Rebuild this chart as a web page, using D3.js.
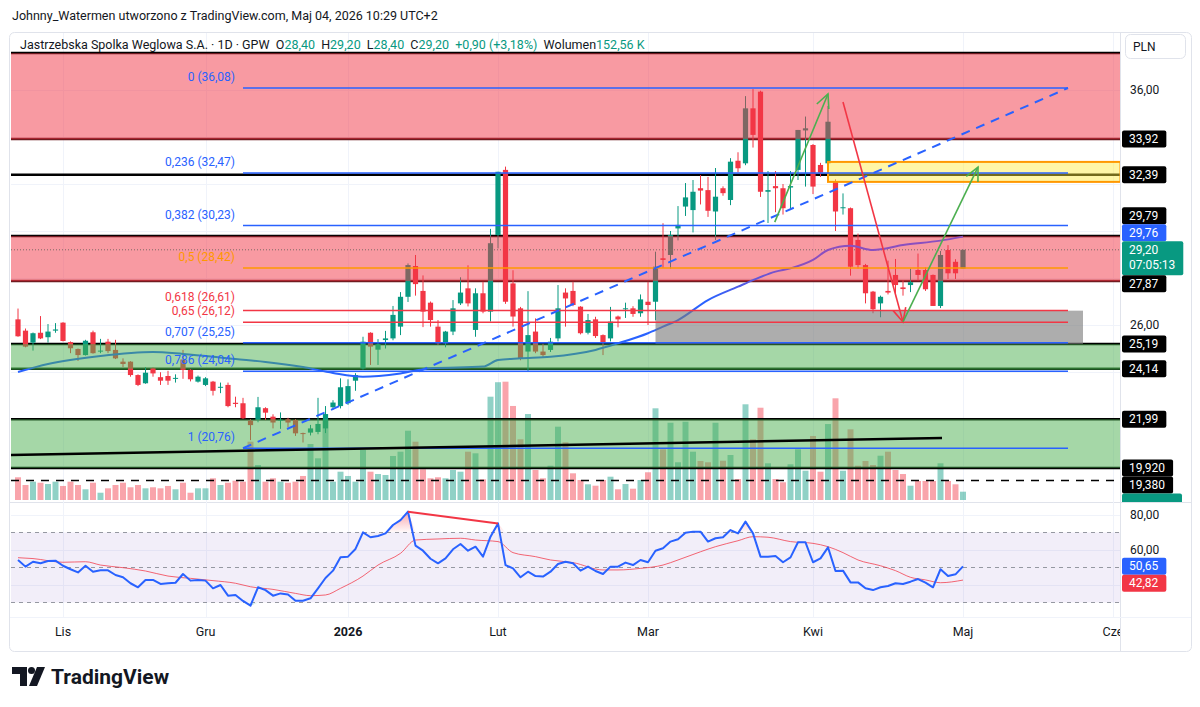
<!DOCTYPE html>
<html>
<head>
<meta charset="utf-8">
<title>JSW 1D</title>
<script src="https://cdn.jsdelivr.net/npm/d3@7/dist/d3.min.js"></script>
<style>
  html, body { margin: 0; padding: 0; background: #fff; }
  svg { display: block; font-family: Roboto, "Noto Sans", sans-serif; }
</style>
</head>
<body>
<svg id="chart" width="1200" height="707"></svg>
<script>
// bar index 0 = 3 Nov 2025, index 120 = 4 May 2026; the first bar shown is index -6
const firstIndex = -6;

const opens = [26.24, 25.76, 25.25, 25.67, 25.48, 25.76,
  26.10, 25.27, 24.98, 24.72, 25.69, 24.88, 25.29, 24.94, 24.44, 24.44,
  23.87, 23.52, 24.16, 23.78, 23.83, 23.71, 24.53, 24.09, 23.59, 23.45,
  23.59, 23.35, 23.45, 22.69, 22.67, 21.93, 21.96, 22.46, 22.10, 21.94,
  21.99, 21.96, 21.40, 21.42, 21.45, 21.60, 22.50, 22.55, 22.67, 23.63,
  24.15, 25.67, 24.95, 25.36, 25.43, 25.93, 27.20, 28.51, 27.45, 26.95,
  25.93, 25.22, 25.72, 26.92, 27.56, 25.79, 27.35, 26.57, 29.83, 32.60,
  27.77, 26.71, 24.87, 25.72, 24.87, 24.94, 25.43, 27.38, 27.45, 26.78,
  25.67, 26.24, 25.57, 25.43, 26.36, 26.69, 26.71, 26.50, 26.99, 26.99,
  28.84, 28.98, 30.11, 31.04, 30.89, 31.82, 31.74, 30.83, 31.82, 31.32,
  32.99, 32.88, 35.22, 35.93, 31.67, 31.91, 31.82, 31.85, 32.60, 34.28,
  33.66, 32.81, 32.88, 32.10, 30.99, 30.97, 29.62, 28.55, 27.42, 26.92,
  27.45, 28.13, 27.60, 27.70, 28.34, 28.34, 28.13, 26.81, 29.19, 28.69,
  28.40];

const highs = [26.70, 25.85, 25.68, 26.38, 26.04, 26.08,
  26.12, 25.30, 25.00, 25.37, 25.76, 25.41, 25.41, 25.37, 24.58, 24.46,
  23.90, 24.21, 24.20, 23.99, 24.05, 23.90, 24.94, 24.12, 23.85, 23.78,
  23.62, 23.55, 23.55, 22.95, 22.90, 22.00, 22.94, 22.50, 22.20, 22.28,
  22.05, 22.00, 21.42, 21.75, 22.90, 22.55, 22.80, 23.73, 23.69, 23.95,
  25.50, 25.69, 25.40, 25.75, 26.81, 27.40, 28.62, 28.98, 28.11, 27.00,
  26.21, 25.75, 27.06, 28.03, 28.54, 27.56, 27.84, 30.09, 32.52, 32.74,
  28.33, 26.77, 27.44, 26.28, 25.20, 25.45, 27.70, 27.56, 27.84, 26.80,
  26.47, 26.35, 25.60, 26.77, 26.40, 26.95, 26.80, 27.30, 27.84, 29.12,
  30.33, 30.00, 31.06, 32.04, 32.17, 32.38, 32.30, 32.68, 31.90, 33.10,
  33.35, 35.74, 36.04, 35.97, 32.55, 32.55, 32.00, 32.55, 34.30, 34.87,
  33.70, 32.90, 35.32, 32.20, 31.60, 31.00, 29.89, 28.60, 27.45, 27.25,
  28.74, 28.81, 27.90, 28.40, 29.04, 28.45, 28.15, 29.15, 29.40, 28.80,
  29.20];

const lows = [25.50, 25.05, 24.91, 25.40, 25.25, 25.67,
  25.30, 24.80, 24.47, 24.70, 24.78, 24.80, 24.80, 24.55, 24.21, 23.80,
  23.40, 23.50, 23.80, 23.45, 23.45, 23.55, 23.71, 23.60, 23.55, 23.40,
  23.00, 23.10, 22.50, 22.50, 22.00, 21.10, 21.86, 21.95, 21.60, 21.58,
  21.65, 21.28, 21.00, 21.30, 21.35, 21.40, 22.40, 22.45, 22.60, 23.20,
  24.10, 24.30, 24.30, 25.00, 25.35, 25.57, 26.98, 27.25, 25.91, 25.93,
  25.15, 25.05, 25.57, 26.85, 26.79, 25.50, 26.50, 26.15, 29.26, 26.90,
  25.93, 24.50, 24.02, 24.80, 24.60, 24.85, 25.30, 25.93, 26.80, 25.60,
  25.60, 25.45, 24.72, 25.30, 25.90, 26.30, 26.35, 26.35, 26.00, 26.20,
  28.43, 28.40, 29.60, 30.64, 29.94, 31.13, 30.60, 29.62, 31.50, 31.10,
  32.50, 32.80, 33.55, 31.45, 30.34, 30.80, 30.70, 30.90, 32.17, 31.89,
  31.57, 32.30, 32.80, 30.00, 30.70, 28.10, 28.40, 26.92, 26.50, 26.33,
  27.30, 27.23, 27.25, 27.40, 27.90, 27.45, 26.81, 26.72, 27.96, 27.96,
  28.40];

const closes = [25.52, 25.08, 25.65, 25.43, 25.72, 25.81,
  25.32, 25.01, 24.72, 25.33, 24.80, 24.91, 24.89, 24.58, 24.34, 23.87,
  23.45, 23.97, 23.94, 23.63, 23.63, 23.75, 24.09, 23.69, 23.80, 23.73,
  23.20, 23.37, 22.55, 22.64, 22.03, 21.74, 22.50, 22.27, 21.85, 21.97,
  21.85, 21.39, 21.36, 21.60, 21.79, 22.21, 22.70, 23.35, 23.40, 23.87,
  25.29, 25.08, 25.18, 25.43, 26.43, 27.20, 28.55, 27.74, 26.57, 26.21,
  25.22, 25.72, 26.71, 27.38, 26.92, 27.35, 26.57, 29.48, 32.52, 26.99,
  26.36, 24.58, 25.57, 24.87, 24.72, 25.29, 26.71, 27.13, 26.85, 25.65,
  26.21, 25.53, 25.25, 26.14, 26.24, 26.71, 26.47, 27.09, 26.85, 28.48,
  28.77, 29.83, 30.26, 31.43, 31.67, 31.72, 30.86, 31.46, 31.61, 32.95,
  32.67, 35.22, 34.09, 31.67, 31.74, 31.82, 30.97, 31.91, 34.30, 34.37,
  31.89, 32.48, 34.65, 30.83, 31.01, 28.48, 28.55, 27.35, 26.67, 27.20,
  27.38, 27.70, 27.53, 27.82, 28.13, 27.52, 26.81, 28.98, 28.20, 28.20,
  29.20];

// volume in thousands of shares
const volumes = [418, 276, 337, 318, 294, 337,
  258, 337, 276, 197, 318, 134, 215, 276, 318, 234,
  276, 215, 234, 215, 258, 197, 318, 134, 215, 215,
  399, 276, 318, 355, 337, 1073, 644, 337, 399, 337,
  318, 337, 442, 1030, 767, 1485, 337, 521, 442, 337,
  920, 521, 478, 460, 810, 889, 1275, 1073, 565, 399,
  418, 399, 552, 521, 889, 859, 381, 1901, 2167, 2177,
  1730, 1117, 1582, 552, 399, 631, 1349, 1062, 491, 368,
  289, 263, 368, 429, 197, 294, 208, 368, 510, 1687,
  933, 1422, 694, 1441, 889, 718, 694, 1422, 723, 828,
  386, 1761, 1117, 1698, 675, 386, 326, 657, 933, 539,
  1178, 521, 1398, 1871, 539, 1301, 631, 718, 644, 815,
  889, 552, 478, 263, 350, 350, 350, 675, 350, 289,
  152.56];

const rsiValues = [54.3, 50.5, 53.3, 52.4, 53.7, 53.9,
  51, 49, 47.2, 51, 47.6, 48.4, 48.4, 45.7, 44.4, 41,
  38.7, 42.9, 42.9, 40.6, 41, 41.3, 46.3, 42.5, 42.9, 42.5,
  38.1, 40, 33.9, 34.3, 30.9, 28.2, 38.7, 37.1, 33.9, 35.2,
  34.6, 31, 31, 32.4, 38.1, 44, 48.2, 55.8, 56.2, 60.6,
  70.1, 67.3, 68, 69.5, 74.3, 77.1, 81.9, 62.5, 59.6, 55,
  52.4, 55.2, 60.4, 63.4, 59.6, 61.9, 56.2, 67.6, 75.2, 51.4,
  49.5, 44.4, 47.6, 45.1, 44.8, 47.6, 52, 53.3, 52.4, 48.2,
  50.5, 48, 46.3, 50.5, 50.5, 52.8, 51.4, 54.3, 53, 59.6,
  61, 64.8, 66.1, 69.9, 70.5, 70.5, 64.8, 66.7, 67.3, 71.4,
  69.5, 76.2, 69.5, 56.2, 56.2, 56.6, 53, 55.8, 64.4, 64.4,
  53, 55.2, 61.5, 48, 48.2, 41.5, 41.5, 38.1, 37.1, 38.7,
  39.4, 41, 40.6, 41.9, 43.4, 41.3, 38.7, 49, 45.1, 46.1,
  50.65];

// RSI moving average, read at these bar indices
const rsiMaIdx = [-6, -4, 0, 3, 5, 8, 11, 14, 17, 20, 23, 25, 28, 31, 33, 35, 37, 40, 42, 45,
  47, 50, 53, 55, 58, 60, 63, 65, 68, 72, 74, 77, 80, 82, 85, 87, 90, 92, 94, 97,
  100, 102, 104, 106, 109, 111, 113, 115, 117, 120];
const rsiMaVals = [55.6, 55.1, 53, 53.3, 51.4, 49.9, 48, 45.1, 43.8, 42.5, 41, 39, 37.5, 35.2, 33.9, 34.3, 38.1, 45.1, 51.4, 58.1,
  65.7, 66.3, 66.7, 65.7, 64.8, 58.5, 56.2, 54.3, 52.8, 48.6, 48.6, 49.5, 51.4, 54.3, 59, 61.9, 65.3, 67.6, 67.3, 64.8,
  63.8, 61.9, 58.5, 54.3, 51, 48.2, 44.4, 42.9, 41.3, 42.82];

// price moving average, read at these bar indices
const maIdx = [-6, -2, 5, 12, 16, 23, 27, 32, 36, 40, 45, 49, 56, 58, 61, 65, 71, 74, 78, 80,
  82, 86, 90, 92, 95, 97, 100, 102, 105, 108, 112, 117, 120];
const maVals = [24.00, 24.34, 24.68, 24.85, 24.77, 24.55, 24.43, 24.21, 23.96, 23.80, 23.94, 24.16, 24.23, 24.51, 24.58, 24.65, 24.94, 25.22, 25.65, 25.93,
  26.21, 27.06, 27.63, 27.91, 28.27, 28.41, 28.77, 29.19, 29.37, 29.19, 29.40, 29.59, 29.76];

const monthIdx = [0, 19, 38, 58, 78, 100, 120, 140];
const monthLabels = ['Lis', 'Gru', '2026', 'Lut', 'Mar', 'Kwi', 'Maj', 'Cze'];

// fibonacci retracement
const fibLevels = [0, 0.236, 0.382, 0.5, 0.618, 0.65, 0.707, 0.786, 1];
const fibColors = ['#2962ff', '#2962ff', '#2962ff', '#ff9800', '#f23645', '#f23645', '#2962ff', '#2962ff', '#2962ff'];
const fibHigh = 36.084, fibLow = 20.757;
const fibFrom = 24, fibTo = 134;

// support / resistance zones and horizontal lines
const redZones = [[37.57, 33.92], [29.79, 27.87]];
const greenZones = [[25.19, 24.14], [21.99, 19.92]];
const levelLines = [37.57, 33.92, 32.39, 29.79, 27.87, 25.19, 24.14, 21.99, 19.92];
const levelColors = ['#000', '#6d1b1f', '#000', '#000', '#6d1b1f', '#000', '#1c4f20', '#000', '#000'];
const dashedLevel = 19.38;
const tagLevels = [33.92, 32.39, 29.79, 27.87, 25.19, 24.14, 21.99, 19.92, 19.38];
const tagTexts = ['33,92', '32,39', '29,79', '27,87', '25,19', '24,14', '21,99', '19,920', '19,380'];

// other drawings [index, price]
const yellowBox = [[102, 32.94], [141, 32.09]];
const grayBox = [[79, 26.61], [136, 25.19]];
const trendLine = [[-7, 20.47], [117.2, 21.19]];
const arrowFrom = [[94.9, 30.38], [104, 35.49], [112, 26.13]];
const arrowTo = [[102, 35.83], [112, 26.13], [122, 32.72]];
const arrowColors = ['#4caf50', '#f23645', '#4caf50'];
const divergence = [[46, 81.9], [58, 75.2]];

const lastPrice = 29.20, countdown = '07:05:13';

// ---------------------------------------------------------------
const UP = '#089981', DOWN = '#f23645';
const fmt = d => d3.format('.2f')(d).replace('.', ',');

const P = { left: 11, right: 1120, top: 33, priceBottom: 502, rsiTop: 503, rsiBottom: 617, bottom: 651 };

const x = d3.scaleLinear().domain([0, 120]).range([63, 963]);
const y = d3.scaleLinear().domain([26, 36]).range([325, 90]);
const yVol = d3.scaleLinear().domain([0, 2300]).range([500, 375]);
const yRsi = d3.scaleLinear().domain([30, 80]).range([602.5, 515]);

const bars = opens.map((o, k) => ({
  i: firstIndex + k, o, h: highs[k], l: lows[k], c: closes[k], v: volumes[k], rsi: rsiValues[k]
}));

const svg = d3.select('#chart');
const defs = svg.append('defs');

defs.append('clipPath').attr('id', 'clip-price').append('rect')
  .attr('x', P.left).attr('y', P.top).attr('width', P.right - P.left).attr('height', P.priceBottom - P.top);
defs.append('clipPath').attr('id', 'clip-rsi').append('rect')
  .attr('x', P.left).attr('y', P.rsiTop).attr('width', P.right - P.left).attr('height', P.rsiBottom - P.rsiTop);
defs.append('clipPath').attr('id', 'clip-axis').append('rect')
  .attr('x', P.right).attr('y', P.top).attr('width', 72).attr('height', P.priceBottom - P.top);
defs.append('clipPath').attr('id', 'clip-time').append('rect')
  .attr('x', P.left).attr('y', P.rsiBottom).attr('width', P.right - P.left).attr('height', P.bottom - P.rsiBottom);

const maGrad = defs.append('linearGradient').attr('id', 'ma-grad')
  .attr('gradientUnits', 'userSpaceOnUse')
  .attr('x1', x(86)).attr('x2', x(97)).attr('y1', 0).attr('y2', 0);
maGrad.append('stop').attr('offset', 0).attr('stop-color', '#2962ff');
maGrad.append('stop').attr('offset', 1).attr('stop-color', '#8a4fbf');

const obGrad = defs.append('linearGradient').attr('id', 'ob-grad').attr('x1', 0).attr('x2', 0).attr('y1', 0).attr('y2', 1);
obGrad.append('stop').attr('offset', 0).attr('stop-color', '#f23645').attr('stop-opacity', 0.45);
obGrad.append('stop').attr('offset', 1).attr('stop-color', '#f23645').attr('stop-opacity', 0.02);
const osGrad = defs.append('linearGradient').attr('id', 'os-grad').attr('x1', 0).attr('x2', 0).attr('y1', 0).attr('y2', 1);
osGrad.append('stop').attr('offset', 0).attr('stop-color', '#089981').attr('stop-opacity', 0.02);
osGrad.append('stop').attr('offset', 1).attr('stop-color', '#089981').attr('stop-opacity', 0.45);

svg.append('rect').attr('width', 1200).attr('height', 707).attr('fill', '#fff');

// frame
svg.append('rect').attr('x', 9.5).attr('y', 32.5).attr('width', 1182).attr('height', 619)
  .attr('rx', 5).attr('fill', 'none').attr('stroke', '#e0e3eb');
svg.append('line').attr('x1', P.right + 0.5).attr('x2', P.right + 0.5).attr('y1', P.top).attr('y2', P.bottom)
  .attr('stroke', '#e0e3eb');
svg.append('line').attr('x1', 10).attr('x2', 1191).attr('y1', P.priceBottom + 0.5).attr('y2', P.priceBottom + 0.5)
  .attr('stroke', '#e0e3eb');
svg.append('line').attr('x1', 10).attr('x2', 1191).attr('y1', P.rsiBottom + 0.5).attr('y2', P.rsiBottom + 0.5)
  .attr('stroke', '#f0f3fa');

// grid
const grid = svg.append('g');
grid.selectAll('.vg').data(monthIdx).join('line')
  .attr('x1', d => Math.round(x(d)) + 0.5).attr('x2', d => Math.round(x(d)) + 0.5)
  .attr('y1', P.top).attr('y2', P.rsiBottom).attr('stroke', '#f0f3fa');
const priceTicks = d3.range(20, 37, 2);
grid.selectAll('.hg').data(priceTicks).join('line')
  .attr('x1', P.left).attr('x2', P.right)
  .attr('y1', d => Math.round(y(d)) + 0.5).attr('y2', d => Math.round(y(d)) + 0.5)
  .attr('stroke', '#f0f3fa');
grid.selectAll('.rg').data([80, 60, 40]).join('line')
  .attr('x1', P.left).attr('x2', P.right)
  .attr('y1', d => Math.round(yRsi(d)) + 0.5).attr('y2', d => Math.round(yRsi(d)) + 0.5)
  .attr('stroke', '#f0f3fa');

// ---------------- price pane ----------------
const pane = svg.append('g').attr('clip-path', 'url(#clip-price)');

pane.append('g').selectAll('rect').data(bars).join('rect')
  .attr('x', d => x(d.i) - 3).attr('width', 6)
  .attr('y', d => yVol(d.v)).attr('height', d => yVol(0) - yVol(d.v))
  .attr('fill', d => d.c >= d.o ? UP : DOWN).attr('fill-opacity', 0.45);

// level lines under zones
pane.append('g').selectAll('line').data(levelLines).join('line')
  .attr('x1', P.left).attr('x2', P.right)
  .attr('y1', d => y(d)).attr('y2', d => y(d))
  .attr('stroke', (d, k) => levelColors[k]).attr('stroke-width', 2.5);
pane.append('line').attr('x1', P.left).attr('x2', P.right)
  .attr('y1', y(dashedLevel)).attr('y2', y(dashedLevel))
  .attr('stroke', '#000').attr('stroke-width', 1.5).attr('stroke-dasharray', '8,7');

// last price line
pane.append('line').attr('x1', P.left).attr('x2', P.right)
  .attr('y1', y(lastPrice)).attr('y2', y(lastPrice))
  .attr('stroke', UP).attr('stroke-width', 1).attr('stroke-dasharray', '1,2');

// candles
const candle = pane.append('g').selectAll('g').data(bars).join('g');
candle.append('line')
  .attr('x1', d => x(d.i)).attr('x2', d => x(d.i))
  .attr('y1', d => y(d.h)).attr('y2', d => y(d.l))
  .attr('stroke', d => d.c >= d.o ? UP : DOWN).attr('stroke-width', 1);
candle.append('rect')
  .attr('x', d => x(d.i) - 2.6).attr('width', 5.2)
  .attr('y', d => y(Math.max(d.o, d.c)))
  .attr('height', d => Math.max(1, Math.abs(y(d.o) - y(d.c))))
  .attr('fill', d => d.c >= d.o ? UP : DOWN);

// red zones
pane.append('g').selectAll('rect').data(redZones).join('rect')
  .attr('x', P.left).attr('width', P.right - P.left)
  .attr('y', d => y(d[0])).attr('height', d => y(d[1]) - y(d[0]))
  .attr('fill', '#f23645').attr('fill-opacity', 0.5);

// moving average
const maLine = d3.line().x(d => x(d[0])).y(d => y(d[1])).curve(d3.curveMonotoneX);
pane.append('path').datum(maIdx.map((d, k) => [d, maVals[k]]))
  .attr('d', maLine).attr('fill', 'none').attr('stroke', 'url(#ma-grad)').attr('stroke-width', 2);

// green zones
pane.append('g').selectAll('rect').data(greenZones).join('rect')
  .attr('x', P.left).attr('width', P.right - P.left)
  .attr('y', d => y(d[0])).attr('height', d => y(d[1]) - y(d[0]))
  .attr('fill', '#4caf50').attr('fill-opacity', 0.5);

// gray and yellow boxes
pane.append('rect')
  .attr('x', x(grayBox[0][0])).attr('width', x(grayBox[1][0]) - x(grayBox[0][0]))
  .attr('y', y(grayBox[0][1])).attr('height', y(grayBox[1][1]) - y(grayBox[0][1]))
  .attr('fill', '#7b7b7b').attr('fill-opacity', 0.62);
pane.append('rect')
  .attr('x', x(yellowBox[0][0])).attr('width', x(yellowBox[1][0]) - x(yellowBox[0][0]))
  .attr('y', y(yellowBox[0][1])).attr('height', y(yellowBox[1][1]) - y(yellowBox[0][1]))
  .attr('fill', '#ffeb3b').attr('fill-opacity', 0.45)
  .attr('stroke', '#ff9800').attr('stroke-width', 2);

// fibonacci
const fib = fibLevels.map((lv, k) => ({ lv, price: fibHigh - lv * (fibHigh - fibLow), color: fibColors[k] }));
// label baselines sit above their line; close labels are pushed apart upwards
fib.forEach(d => { d.ly = y(d.price) - 7; });
for (let k = fib.length - 2; k >= 0; k--) {
  if (fib[k + 1].ly - fib[k].ly < 14) fib[k].ly = fib[k + 1].ly - 14;
}
pane.append('g').selectAll('line').data(fib).join('line')
  .attr('x1', x(fibFrom)).attr('x2', x(fibTo))
  .attr('y1', d => y(d.price)).attr('y2', d => y(d.price))
  .attr('stroke', d => d.color).attr('stroke-width', 1.5);
pane.append('g').selectAll('text').data(fib).join('text')
  .attr('x', x(fibFrom) - 8).attr('y', d => d.ly)
  .attr('text-anchor', 'end').attr('font-size', 12).attr('fill', d => d.color)
  .text(d => `${String(d.lv).replace('.', ',')} (${fmt(d.price)})`);
pane.append('line')
  .attr('x1', x(fibFrom)).attr('y1', y(fibLow)).attr('x2', x(fibTo)).attr('y2', y(fibHigh))
  .attr('stroke', '#2962ff').attr('stroke-width', 2).attr('stroke-dasharray', '9,7');

// black trend line
pane.append('line')
  .attr('x1', x(trendLine[0][0])).attr('y1', y(trendLine[0][1]))
  .attr('x2', x(trendLine[1][0])).attr('y2', y(trendLine[1][1]))
  .attr('stroke', '#000').attr('stroke-width', 2.5);

// arrows
function arrowHead(x1, y1, x2, y2, len = 15, ang = Math.PI / 7) {
  const a = Math.atan2(y2 - y1, x2 - x1);
  return `M${x2 - len * Math.cos(a - ang)},${y2 - len * Math.sin(a - ang)}L${x2},${y2}` +
    `L${x2 - len * Math.cos(a + ang)},${y2 - len * Math.sin(a + ang)}`;
}
arrowFrom.forEach((f, k) => {
  const x1 = x(f[0]), y1 = y(f[1]), x2 = x(arrowTo[k][0]), y2 = y(arrowTo[k][1]);
  pane.append('line').attr('x1', x1).attr('y1', y1).attr('x2', x2).attr('y2', y2)
    .attr('stroke', arrowColors[k]).attr('stroke-width', 1.6);
  pane.append('path').attr('d', arrowHead(x1, y1, x2, y2))
    .attr('fill', 'none').attr('stroke', arrowColors[k]).attr('stroke-width', 1.6);
});

// ---------------- RSI pane ----------------
const rsiPane = svg.append('g').attr('clip-path', 'url(#clip-rsi)');
rsiPane.append('rect').attr('x', P.left).attr('width', P.right - P.left)
  .attr('y', yRsi(70)).attr('height', yRsi(30) - yRsi(70))
  .attr('fill', '#7e57c2').attr('fill-opacity', 0.1);
rsiPane.selectAll('.band').data([70, 50, 30]).join('line')
  .attr('x1', P.left).attr('x2', P.right)
  .attr('y1', d => yRsi(d)).attr('y2', d => yRsi(d))
  .attr('stroke', '#9598a1').attr('stroke-width', 1).attr('stroke-dasharray', '4,4');

rsiPane.append('path').datum(bars)
  .attr('d', d3.area().x(d => x(d.i)).y0(yRsi(70)).y1(d => yRsi(Math.max(70, d.rsi))))
  .attr('fill', 'url(#ob-grad)');
rsiPane.append('path').datum(bars)
  .attr('d', d3.area().x(d => x(d.i)).y0(yRsi(30)).y1(d => yRsi(Math.min(30, d.rsi))))
  .attr('fill', 'url(#os-grad)');

rsiPane.append('path').datum(rsiMaIdx.map((d, k) => [d, rsiMaVals[k]]))
  .attr('d', d3.line().x(d => x(d[0])).y(d => yRsi(d[1])).curve(d3.curveMonotoneX))
  .attr('fill', 'none').attr('stroke', '#f23645').attr('stroke-opacity', 0.75).attr('stroke-width', 1);
rsiPane.append('path').datum(bars)
  .attr('d', d3.line().x(d => x(d.i)).y(d => yRsi(d.rsi)))
  .attr('fill', 'none').attr('stroke', '#2962ff').attr('stroke-width', 2).attr('stroke-linejoin', 'round');
rsiPane.append('line')
  .attr('x1', x(divergence[0][0])).attr('y1', yRsi(divergence[0][1]))
  .attr('x2', x(divergence[1][0])).attr('y2', yRsi(divergence[1][1]))
  .attr('stroke', '#f23645').attr('stroke-width', 2);

// ---------------- axes ----------------
svg.append('g').attr('clip-path', 'url(#clip-time)')
  .selectAll('text').data(monthIdx).join('text')
  .attr('x', d => x(d)).attr('y', 636).attr('text-anchor', 'middle')
  .attr('font-size', 12.5).attr('fill', '#131722')
  .attr('font-weight', (d, k) => monthLabels[k] === '2026' ? 700 : 400)
  .text((d, k) => monthLabels[k]);

// price tags with simple collision handling; returns the occupied boxes
function drawTags(parent, tags) {
  tags.forEach(t => { t.h = t.sub ? 34 : 17; t.top = t.y - 8.5; });
  tags.sort((a, b) => a.y - b.y);
  let p = tags.findIndex(t => t.fixed);
  if (p < 0) p = 0;
  for (let k = p - 1; k >= 0; k--) {
    if (tags[k].top + tags[k].h > tags[k + 1].top) tags[k].top = tags[k + 1].top - tags[k].h;
  }
  for (let k = p + 1; k < tags.length; k++) {
    const lim = tags[k - 1].top + tags[k - 1].h;
    if (tags[k].top < lim) tags[k].top = lim;
  }
  tags.forEach(t => {
    const g = parent.append('g');
    const rect = g.append('rect').attr('x', P.right + 2).attr('y', t.top).attr('height', t.h)
      .attr('rx', 2).attr('fill', t.fill).attr('width', 60);
    if (t.hidden) return;
    const tx = g.append('text').attr('x', P.right + 9).attr('y', t.top + 12.5)
      .attr('font-size', 12).attr('fill', '#fff').text(t.text);
    let w = tx.node().getComputedTextLength();
    if (t.sub) {
      const s = g.append('text').attr('x', P.right + 9).attr('y', t.top + 28)
        .attr('font-size', 12).attr('fill', '#fff').text(t.sub);
      w = Math.max(w, s.node().getComputedTextLength());
    }
    rect.attr('width', w + 15);
  });
  return tags.map(t => [t.top, t.top + t.h]);
}

const priceTags = tagLevels.map((d, k) => ({ y: y(d), text: tagTexts[k], fill: '#000' }));
priceTags.push({ y: y(maVals[maVals.length - 1]), text: fmt(maVals[maVals.length - 1]), fill: '#2962ff' });
priceTags.push({ y: y(lastPrice), text: fmt(lastPrice), sub: countdown, fill: UP, fixed: true });
// volume tag sits below the pane edge, only a strip of it shows
priceTags.push({ y: yVol(volumes[volumes.length - 1]), text: '152,56 K', fill: UP, hidden: true });
const priceBoxes = drawTags(svg.append('g').attr('clip-path', 'url(#clip-axis)'), priceTags);

const rsiTags = [
  { y: yRsi(rsiValues[rsiValues.length - 1]), text: fmt(rsiValues[rsiValues.length - 1]), fill: '#2962ff', fixed: true },
  { y: yRsi(rsiMaVals[rsiMaVals.length - 1]), text: fmt(rsiMaVals[rsiMaVals.length - 1]), fill: '#f23645' }
];
const rsiBoxes = drawTags(svg.append('g'), rsiTags);

// plain scale labels, hidden where a tag covers them
const free = (yy, boxes) => boxes.every(b => yy + 7 < b[0] || yy - 7 > b[1]);
const axisG = svg.append('g').attr('font-size', 12).attr('fill', '#131722');
axisG.selectAll('.pl').data(priceTicks.filter(d => free(y(d), priceBoxes))).join('text')
  .attr('x', P.right + 10).attr('y', d => y(d) + 4).text(fmt);
axisG.selectAll('.rl').data([80, 60].filter(d => free(yRsi(d), rsiBoxes))).join('text')
  .attr('x', P.right + 10).attr('y', d => yRsi(d) + 4).text(fmt);

// PLN button
svg.append('rect').attr('x', 1125.5).attr('y', 34.5).attr('width', 60).attr('height', 24)
  .attr('rx', 5).attr('fill', '#fff').attr('stroke', '#e0e3eb');
svg.append('text').attr('x', 1133).attr('y', 50.5).attr('font-size', 12).attr('fill', '#131722').text('PLN');

// ---------------- header ----------------
svg.append('text').attr('x', 12).attr('y', 20).attr('font-size', 12.5).attr('fill', '#131722')
  .text('Johnny_Watermen utworzono z TradingView.com, Maj 04, 2026 10:29 UTC+2');

const legend = [
  ['Jastrzebska Spolka Weglowa S.A. · 1D · GPW', '#131722'], ['  O', '#131722'], ['28,40', UP],
  ['  H', '#131722'], ['29,20', UP], ['  L', '#131722'], ['28,40', UP], ['  C', '#131722'], ['29,20', UP],
  ['  +0,90 (+3,18%)', UP], ['  Wolumen', '#131722'], ['152,56 K', UP]
];
const lg = svg.append('text').attr('x', 20).attr('y', 49).attr('font-size', 12.5).attr('xml:space', 'preserve');
legend.forEach(s => lg.append('tspan').attr('fill', s[1]).text(s[0]));

// ---------------- TradingView logo ----------------
const logo = svg.append('g').attr('fill', '#131722');
logo.append('path').attr('d', 'M12,667h15v19h-7v-12h-8z');
logo.append('circle').attr('cx', 31.5).attr('cy', 670.5).attr('r', 3.5);
logo.append('path').attr('d', 'M37,667h8l-8,19h-8z');
logo.append('text').attr('x', 51).attr('y', 684).attr('font-size', 21).attr('font-weight', 700)
  .text('TradingView');
</script>
</body>
</html>
